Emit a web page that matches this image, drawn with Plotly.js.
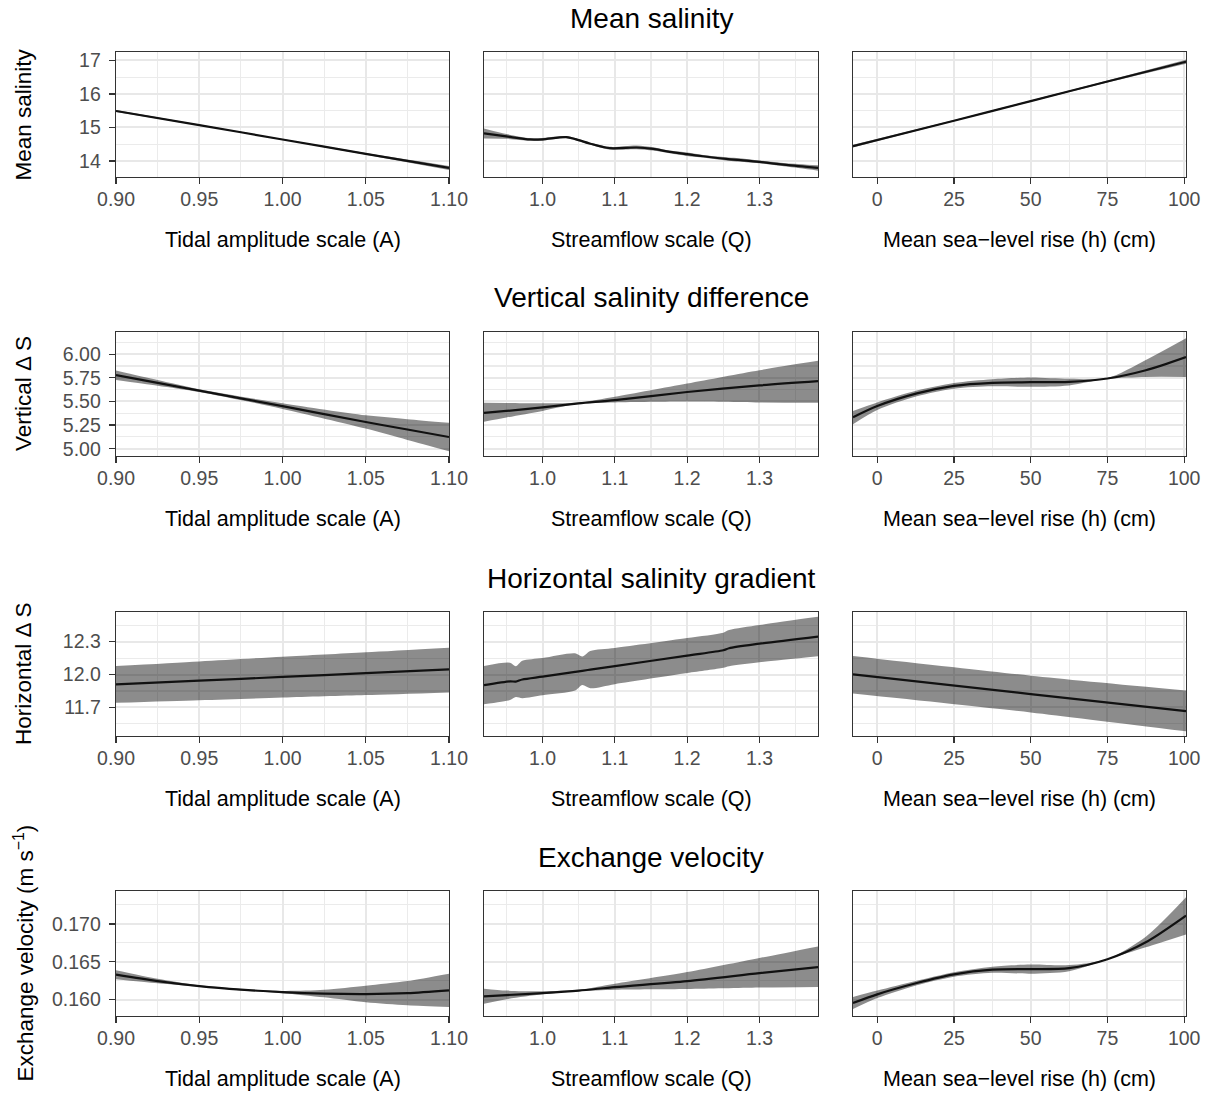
<!DOCTYPE html>
<html>
<head>
<meta charset="utf-8">
<script src="https://cdn.plot.ly/plotly-3.0.1.min.js"></script>
<style>html,body{margin:0;padding:0;background:#fff;}#chart{width:1211px;height:1095px;}</style>
</head>
<body>
<div id="chart"></div>
<script>
// ---------------- DATA ----------------
const rowTitles = ["Mean salinity", "Vertical salinity difference", "Horizontal salinity gradient", "Exchange velocity"];
const yTitles = ["Mean salinity", "Vertical \u0394 S", "Horizontal \u0394 S", "Exchange velocity (m s<sup>\u22121</sup>)"];
const xTitles = ["Tidal amplitude scale (A)", "Streamflow scale (Q)", "Mean sea\u2212level rise (h) (cm)"];

// Row 1: Mean salinity
const salA_x = [0.90, 0.95, 1.00, 1.05, 1.10];
const salA_fit = [15.49, 15.07, 14.64, 14.21, 13.79];
const salA_lo = [15.46, 15.055, 14.628, 14.185, 13.73];
const salA_hi = [15.52, 15.085, 14.652, 14.235, 13.85];

const salQ_x = [0.919, 0.95, 0.983, 1.0, 1.033, 1.05, 1.065, 1.093, 1.13, 1.153, 1.176, 1.2, 1.222, 1.254, 1.282, 1.3, 1.337, 1.381];
const salQ_fit = [14.82, 14.73, 14.64, 14.645, 14.71, 14.62, 14.52, 14.38, 14.40, 14.36, 14.27, 14.20, 14.14, 14.06, 14.01, 13.97, 13.88, 13.79];
const salQ_lo = [14.67, 14.66, 14.60, 14.605, 14.68, 14.59, 14.49, 14.34, 14.35, 14.31, 14.23, 14.15, 14.10, 14.01, 13.96, 13.93, 13.83, 13.71];
const salQ_hi = [14.97, 14.80, 14.68, 14.685, 14.74, 14.65, 14.55, 14.42, 14.46, 14.41, 14.31, 14.25, 14.18, 14.11, 14.06, 14.01, 13.93, 13.87];

const salH_x = [-7.9, 25, 50, 75, 100.6];
const salH_fit = [14.44, 15.20, 15.785, 16.37, 16.96];
const salH_lo = [14.40, 15.18, 15.765, 16.34, 16.90];
const salH_hi = [14.48, 15.22, 15.805, 16.40, 17.02];

// Row 2: Vertical salinity difference
const vdsA_x = [0.90, 0.925, 0.95, 1.00, 1.05, 1.075, 1.10];
const vdsA_fit = [5.778, 5.697, 5.615, 5.451, 5.283, 5.203, 5.124];
const vdsA_lo = [5.728, 5.667, 5.600, 5.421, 5.213, 5.093, 4.974];
const vdsA_hi = [5.828, 5.727, 5.630, 5.481, 5.353, 5.313, 5.274];

const vdsQ_x = [0.919, 0.95, 1.0, 1.05, 1.1, 1.2, 1.3, 1.381];
const vdsQ_fit = [5.38, 5.40, 5.437, 5.48, 5.514, 5.60, 5.67, 5.715];
const vdsQ_lo = [5.285, 5.33, 5.40, 5.475, 5.49, 5.50, 5.49, 5.486];
const vdsQ_hi = [5.486, 5.485, 5.48, 5.49, 5.55, 5.69, 5.831, 5.93];

const vdsH_x = [-7.9, 0, 12.9, 25, 37.5, 50, 62.5, 75, 87.5, 100.6];
const vdsH_fit = [5.332, 5.451, 5.585, 5.665, 5.697, 5.704, 5.708, 5.743, 5.83, 5.97];
const vdsH_lo = [5.26, 5.41, 5.555, 5.635, 5.66, 5.655, 5.67, 5.74, 5.76, 5.76];
const vdsH_hi = [5.40, 5.49, 5.615, 5.695, 5.735, 5.754, 5.74, 5.748, 5.94, 6.17];

// Row 3: Horizontal salinity gradient
const hdsA_x = [0.90, 0.95, 1.00, 1.05, 1.10];
const hdsA_fit = [11.91, 11.944, 11.978, 12.013, 12.047];
const hdsA_lo = [11.742, 11.766, 11.79, 11.813, 11.837];
const hdsA_hi = [12.078, 12.120, 12.162, 12.203, 12.245];

const hdsQ_x = [0.919, 0.955, 0.963, 0.972, 1.0, 1.045, 1.055, 1.066, 1.1, 1.2, 1.25, 1.258, 1.3, 1.381];
const hdsQ_fit = [11.904, 11.938, 11.936, 11.955, 11.981, 12.024, 12.034, 12.045, 12.077, 12.173, 12.221, 12.240, 12.281, 12.346];
const hdsQ_lo = [11.729, 11.768, 11.796, 11.785, 11.811, 11.854, 11.904, 11.875, 11.912, 12.013, 12.061, 12.075, 12.111, 12.166];
const hdsQ_hi = [12.079, 12.108, 12.076, 12.125, 12.151, 12.194, 12.164, 12.215, 12.242, 12.333, 12.381, 12.405, 12.451, 12.526];

const hdsH_x = [-7.9, 50, 100.6];
const hdsH_fit = [12.002, 11.822, 11.666];
const hdsH_lo = [11.828, 11.655, 11.483];
const hdsH_hi = [12.169, 11.99, 11.855];

// Row 4: Exchange velocity
const velA_x = [0.90, 0.925, 0.95, 0.975, 1.00, 1.025, 1.05, 1.075, 1.10];
const velA_fit = [0.16329, 0.16245, 0.16179, 0.16132, 0.16100, 0.16080, 0.16074, 0.16085, 0.16122];
const velA_lo = [0.16269, 0.16215, 0.16169, 0.16122, 0.16085, 0.16030, 0.15964, 0.15925, 0.15902];
const velA_hi = [0.16389, 0.16275, 0.16189, 0.16142, 0.16115, 0.16130, 0.16184, 0.16245, 0.16342];

const velQ_x = [0.919, 0.95, 1.0, 1.05, 1.1, 1.2, 1.3, 1.381];
const velQ_fit = [0.16044, 0.16060, 0.16087, 0.16120, 0.16166, 0.16245, 0.16350, 0.16430];
const velQ_lo = [0.15947, 0.16005, 0.16070, 0.16110, 0.16130, 0.16140, 0.16160, 0.16167];
const velQ_hi = [0.16145, 0.16120, 0.16110, 0.16130, 0.16210, 0.16364, 0.16550, 0.16703];

const velH_x = [-7.9, 0, 12.9, 25, 37.5, 50, 62.5, 75, 87.5, 100.6];
const velH_fit = [0.15955, 0.16070, 0.16219, 0.16333, 0.16395, 0.16403, 0.16416, 0.16534, 0.16758, 0.17110];
const velH_lo = [0.15875, 0.16020, 0.16190, 0.16303, 0.16355, 0.16343, 0.16376, 0.16530, 0.16690, 0.16860];
const velH_hi = [0.16035, 0.16120, 0.16250, 0.16363, 0.16435, 0.16463, 0.16456, 0.16538, 0.16830, 0.17350];

// axis ranges / ticks
const xRanges = [[0.90, 1.10], [0.919, 1.381], [-7.9, 100.6]];
const xTick = [{tick0: 0.90, dtick: 0.05, fmt: ".2f"}, {tick0: 1.0, dtick: 0.1, fmt: ".1f"}, {tick0: 0, dtick: 25, fmt: "d"}];
const yRanges = [[13.52, 17.25], [4.923, 6.235], [11.44, 12.57], [0.15784, 0.17434]];
const yTick = [{tick0: 14, dtick: 1, fmt: "d"}, {tick0: 5, dtick: 0.25, fmt: ".2f"}, {tick0: 11.7, dtick: 0.3, fmt: ".1f"}, {tick0: 0.16, dtick: 0.005, fmt: ".3f"}];

const panels = [
  [salA_x, salA_fit, salA_lo, salA_hi], [salQ_x, salQ_fit, salQ_lo, salQ_hi], [salH_x, salH_fit, salH_lo, salH_hi],
  [vdsA_x, vdsA_fit, vdsA_lo, vdsA_hi], [vdsQ_x, vdsQ_fit, vdsQ_lo, vdsQ_hi], [vdsH_x, vdsH_fit, vdsH_lo, vdsH_hi],
  [hdsA_x, hdsA_fit, hdsA_lo, hdsA_hi], [hdsQ_x, hdsQ_fit, hdsQ_lo, hdsQ_hi], [hdsH_x, hdsH_fit, hdsH_lo, hdsH_hi],
  [velA_x, velA_fit, velA_lo, velA_hi], [velQ_x, velQ_fit, velQ_lo, velQ_hi], [velH_x, velH_fit, velH_lo, velH_hi]
];

// ---------------- LAYOUT (pixel geometry) ----------------
const W = 1211, H = 1095;
const colPx = [[116, 449], [484, 818], [853, 1186]];
const rowPx = [[52, 177], [332, 456], [612, 736], [891, 1016]];
const FONT = "Liberation Sans, Arial, Helvetica, sans-serif";

const traces = [];
const layout = {
  width: W, height: H,
  margin: {l: 0, r: 0, t: 0, b: 0},
  paper_bgcolor: "#ffffff", plot_bgcolor: "#ffffff",
  showlegend: false,
  font: {family: FONT, color: "#000000"},
  annotations: []
};

panels.forEach((p, i) => {
  const r = Math.floor(i / 3), c = i % 3, n = i + 1;
  const xa = "x" + (n === 1 ? "" : n), ya = "y" + (n === 1 ? "" : n);
  const [x, fit, lo, hi] = p;
  traces.push({x: x, y: lo, xaxis: xa, yaxis: ya, mode: "lines", line: {width: 0, shape: "spline", smoothing: 0.8}, hoverinfo: "skip"});
  traces.push({x: x, y: hi, xaxis: xa, yaxis: ya, mode: "lines", line: {width: 0, shape: "spline", smoothing: 0.8}, fill: "tonexty", fillcolor: "rgba(0,0,0,0.45)", hoverinfo: "skip"});
  traces.push({x: x, y: fit, xaxis: xa, yaxis: ya, mode: "lines", line: {color: "#111111", width: 2.2, shape: "spline", smoothing: 0.8}});

  const common = {
    showline: true, mirror: true, linecolor: "#333333", linewidth: 1.3,
    gridcolor: "#e8e8e8", gridwidth: 2, zeroline: false,
    tickfont: {family: FONT, size: 19.5, color: "#4d4d4d"},
    tickmode: "linear", ticklen: 6, tickwidth: 1.3, tickcolor: "#333333"
  };
  layout["xaxis" + (n === 1 ? "" : n)] = Object.assign({}, common, {
    domain: [colPx[c][0] / W, colPx[c][1] / W], anchor: ya,
    range: xRanges[c], tick0: xTick[c].tick0, dtick: xTick[c].dtick, tickformat: xTick[c].fmt,
    ticks: "outside", ticklabelstandoff: -2,
    minor: {tick0: xTick[c].tick0, dtick: xTick[c].dtick / 2, showgrid: true, gridcolor: "#ebebeb", gridwidth: 1.1, ticks: ""}
  });
  layout["yaxis" + (n === 1 ? "" : n)] = Object.assign({}, common, {
    domain: [1 - rowPx[r][1] / H, 1 - rowPx[r][0] / H], anchor: xa,
    range: yRanges[r], tick0: yTick[r].tick0, dtick: yTick[r].dtick, tickformat: yTick[r].fmt,
    ticks: c === 0 ? "outside" : "", showticklabels: c === 0, ticklabelstandoff: 4,
    minor: {tick0: yTick[r].tick0, dtick: yTick[r].dtick / 2, showgrid: true, gridcolor: "#ebebeb", gridwidth: 1.1, ticks: ""}
  });
  // x-axis title
  layout.annotations.push({
    text: xTitles[c], xref: "paper", yref: "paper",
    x: (colPx[c][0] + colPx[c][1]) / 2 / W, y: 1 - (rowPx[r][1] + 63) / H,
    xanchor: "center", yanchor: "middle", showarrow: false,
    font: {family: FONT, size: 21.5, color: "#000000"}
  });
});

rowTitles.forEach((t, r) => {
  layout.annotations.push({
    text: t, xref: "paper", yref: "paper",
    x: (colPx[0][0] + colPx[2][1]) / 2 / W, y: 1 - (rowPx[r][0] - 34) / H,
    xanchor: "center", yanchor: "middle", showarrow: false,
    font: {family: FONT, size: 28, color: "#000000"}
  });
  layout.annotations.push({
    text: yTitles[r], xref: "paper", yref: "paper", textangle: -90,
    x: 23 / W, y: 1 - (rowPx[r][0] + rowPx[r][1]) / 2 / H,
    xanchor: "center", yanchor: "middle", showarrow: false,
    font: {family: FONT, size: 22.5, color: "#000000"}
  });
});

Plotly.newPlot("chart", traces, layout, {staticPlot: true});
</script>
</body>
</html>
